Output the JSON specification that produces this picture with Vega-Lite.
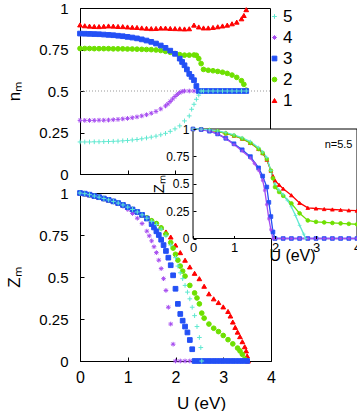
{
"$schema":"https://vega.github.io/schema/vega-lite/v6.json",
"padding":{"left":4,"top":0,"right":5,"bottom":5},
"config":{"font":"Liberation Sans","view":{"stroke":"black","strokeWidth":1},
"axis":{"grid":false,"domainColor":"black","tickColor":"black","labelColor":"black","titleColor":"black","labelFont":"Liberation Sans","titleFont":"Liberation Sans","titleFontWeight":"normal","labelFlush":false,"labelOverlap":false},
"legend":{"labelFont":"Liberation Sans"}},
"datasets":{
"top":[
{"s":"1","U":0,"v":0.898},{"s":"1","U":0.1,"v":0.893},{"s":"1","U":0.2,"v":0.891},{"s":"1","U":0.3,"v":0.889},{"s":"1","U":0.4,"v":0.888},{"s":"1","U":0.5,"v":0.89},{"s":"1","U":0.6,"v":0.892},{"s":"1","U":0.7,"v":0.891},{"s":"1","U":0.8,"v":0.889},{"s":"1","U":0.9,"v":0.888},{"s":"1","U":1,"v":0.886},{"s":"1","U":1.1,"v":0.884},{"s":"1","U":1.2,"v":0.883},{"s":"1","U":1.3,"v":0.88},{"s":"1","U":1.4,"v":0.878},{"s":"1","U":1.5,"v":0.876},{"s":"1","U":1.6,"v":0.877},{"s":"1","U":1.7,"v":0.879},{"s":"1","U":1.8,"v":0.879},{"s":"1","U":1.9,"v":0.877},{"s":"1","U":2,"v":0.876},{"s":"1","U":2.1,"v":0.875},{"s":"1","U":2.2,"v":0.874},{"s":"1","U":2.3,"v":0.875},{"s":"1","U":2.4,"v":0.897},{"s":"1","U":2.5,"v":0.886},{"s":"1","U":2.6,"v":0.88},{"s":"1","U":2.7,"v":0.88},{"s":"1","U":2.8,"v":0.883},{"s":"1","U":2.9,"v":0.887},{"s":"1","U":3,"v":0.892},{"s":"1","U":3.1,"v":0.897},{"s":"1","U":3.2,"v":0.905},{"s":"1","U":3.3,"v":0.915},{"s":"1","U":3.4,"v":0.935},{"s":"1","U":3.45,"v":0.955},{"s":"1","U":3.5,"v":0.99},
{"s":"2","U":0,"v":0.756},{"s":"2","U":0.1,"v":0.756},{"s":"2","U":0.2,"v":0.756},{"s":"2","U":0.3,"v":0.755},{"s":"2","U":0.4,"v":0.755},{"s":"2","U":0.5,"v":0.755},{"s":"2","U":0.6,"v":0.755},{"s":"2","U":0.7,"v":0.754},{"s":"2","U":0.8,"v":0.754},{"s":"2","U":0.9,"v":0.754},{"s":"2","U":1,"v":0.753},{"s":"2","U":1.1,"v":0.753},{"s":"2","U":1.2,"v":0.752},{"s":"2","U":1.3,"v":0.751},{"s":"2","U":1.4,"v":0.75},{"s":"2","U":1.5,"v":0.749},{"s":"2","U":1.6,"v":0.747},{"s":"2","U":1.7,"v":0.744},{"s":"2","U":1.8,"v":0.739},{"s":"2","U":1.9,"v":0.733},{"s":"2","U":2,"v":0.726},{"s":"2","U":2.1,"v":0.719},{"s":"2","U":2.2,"v":0.716},{"s":"2","U":2.3,"v":0.716},{"s":"2","U":2.4,"v":0.717},{"s":"2","U":2.45,"v":0.715},{"s":"2","U":2.5,"v":0.695},{"s":"2","U":2.55,"v":0.665},{"s":"2","U":2.6,"v":0.63},{"s":"2","U":2.7,"v":0.625},{"s":"2","U":2.8,"v":0.622},{"s":"2","U":2.9,"v":0.618},{"s":"2","U":3,"v":0.613},{"s":"2","U":3.1,"v":0.606},{"s":"2","U":3.2,"v":0.596},{"s":"2","U":3.3,"v":0.582},{"s":"2","U":3.4,"v":0.562},{"s":"2","U":3.45,"v":0.54},{"s":"2","U":3.5,"v":0.505},
{"s":"4","U":0,"v":0.323},{"s":"4","U":0.1,"v":0.323},{"s":"4","U":0.2,"v":0.323},{"s":"4","U":0.3,"v":0.323},{"s":"4","U":0.4,"v":0.324},{"s":"4","U":0.5,"v":0.324},{"s":"4","U":0.6,"v":0.325},{"s":"4","U":0.7,"v":0.327},{"s":"4","U":0.8,"v":0.329},{"s":"4","U":0.9,"v":0.332},{"s":"4","U":1,"v":0.335},{"s":"4","U":1.1,"v":0.339},{"s":"4","U":1.2,"v":0.344},{"s":"4","U":1.3,"v":0.35},{"s":"4","U":1.4,"v":0.357},{"s":"4","U":1.5,"v":0.366},{"s":"4","U":1.6,"v":0.377},{"s":"4","U":1.7,"v":0.392},{"s":"4","U":1.8,"v":0.41},{"s":"4","U":1.85,"v":0.422},{"s":"4","U":1.9,"v":0.437},{"s":"4","U":1.95,"v":0.452},{"s":"4","U":2,"v":0.467},{"s":"4","U":2.05,"v":0.48},{"s":"4","U":2.1,"v":0.49},{"s":"4","U":2.15,"v":0.497},{"s":"4","U":2.2,"v":0.5},{"s":"4","U":2.3,"v":0.5},{"s":"4","U":2.4,"v":0.5},{"s":"4","U":2.5,"v":0.5},{"s":"4","U":2.6,"v":0.5},{"s":"4","U":2.7,"v":0.5},{"s":"4","U":2.8,"v":0.5},{"s":"4","U":2.9,"v":0.5},{"s":"4","U":3,"v":0.5},{"s":"4","U":3.1,"v":0.5},{"s":"4","U":3.2,"v":0.5},{"s":"4","U":3.3,"v":0.5},{"s":"4","U":3.4,"v":0.5},{"s":"4","U":3.5,"v":0.5},
{"s":"3","U":0,"v":0.846},{"s":"3","U":0.1,"v":0.845},{"s":"3","U":0.2,"v":0.844},{"s":"3","U":0.3,"v":0.843},{"s":"3","U":0.4,"v":0.842},{"s":"3","U":0.5,"v":0.84},{"s":"3","U":0.6,"v":0.838},{"s":"3","U":0.7,"v":0.836},{"s":"3","U":0.8,"v":0.833},{"s":"3","U":0.9,"v":0.83},{"s":"3","U":1,"v":0.826},{"s":"3","U":1.1,"v":0.822},{"s":"3","U":1.2,"v":0.817},{"s":"3","U":1.3,"v":0.811},{"s":"3","U":1.4,"v":0.804},{"s":"3","U":1.5,"v":0.796},{"s":"3","U":1.6,"v":0.786},{"s":"3","U":1.7,"v":0.774},{"s":"3","U":1.8,"v":0.76},{"s":"3","U":1.9,"v":0.743},{"s":"3","U":2,"v":0.724},{"s":"3","U":2.1,"v":0.695},{"s":"3","U":2.15,"v":0.675},{"s":"3","U":2.2,"v":0.655},{"s":"3","U":2.25,"v":0.63},{"s":"3","U":2.3,"v":0.603},{"s":"3","U":2.35,"v":0.585},{"s":"3","U":2.4,"v":0.565},{"s":"3","U":2.45,"v":0.53},{"s":"3","U":2.5,"v":0.5},{"s":"3","U":2.6,"v":0.5},{"s":"3","U":2.7,"v":0.5},{"s":"3","U":2.8,"v":0.5},{"s":"3","U":2.9,"v":0.5},{"s":"3","U":3,"v":0.5},{"s":"3","U":3.1,"v":0.5},{"s":"3","U":3.2,"v":0.5},{"s":"3","U":3.3,"v":0.5},{"s":"3","U":3.4,"v":0.5},{"s":"3","U":3.5,"v":0.5},
{"s":"5","U":0,"v":0.193},{"s":"5","U":0.1,"v":0.193},{"s":"5","U":0.2,"v":0.193},{"s":"5","U":0.3,"v":0.194},{"s":"5","U":0.4,"v":0.194},{"s":"5","U":0.5,"v":0.195},{"s":"5","U":0.6,"v":0.196},{"s":"5","U":0.7,"v":0.197},{"s":"5","U":0.8,"v":0.198},{"s":"5","U":0.9,"v":0.2},{"s":"5","U":1,"v":0.202},{"s":"5","U":1.1,"v":0.205},{"s":"5","U":1.2,"v":0.208},{"s":"5","U":1.3,"v":0.212},{"s":"5","U":1.4,"v":0.217},{"s":"5","U":1.5,"v":0.222},{"s":"5","U":1.6,"v":0.228},{"s":"5","U":1.7,"v":0.236},{"s":"5","U":1.8,"v":0.245},{"s":"5","U":1.9,"v":0.257},{"s":"5","U":2,"v":0.272},{"s":"5","U":2.1,"v":0.29},{"s":"5","U":2.2,"v":0.32},{"s":"5","U":2.3,"v":0.35},{"s":"5","U":2.35,"v":0.39},{"s":"5","U":2.4,"v":0.42},{"s":"5","U":2.45,"v":0.45},{"s":"5","U":2.5,"v":0.475},{"s":"5","U":2.55,"v":0.5},{"s":"5","U":2.6,"v":0.5},{"s":"5","U":2.7,"v":0.5},{"s":"5","U":2.8,"v":0.5},{"s":"5","U":2.9,"v":0.5},{"s":"5","U":3,"v":0.5},{"s":"5","U":3.1,"v":0.5},{"s":"5","U":3.2,"v":0.5},{"s":"5","U":3.3,"v":0.5},{"s":"5","U":3.4,"v":0.5},{"s":"5","U":3.5,"v":0.5}
],
"bot":[
{"s":"1","U":0,"v":1},{"s":"1","U":0.1,"v":0.996},{"s":"1","U":0.2,"v":0.99},{"s":"1","U":0.3,"v":0.982},{"s":"1","U":0.4,"v":0.975},{"s":"1","U":0.5,"v":0.967},{"s":"1","U":0.6,"v":0.959},{"s":"1","U":0.7,"v":0.95},{"s":"1","U":0.8,"v":0.94},{"s":"1","U":0.9,"v":0.929},{"s":"1","U":1,"v":0.916},{"s":"1","U":1.1,"v":0.902},{"s":"1","U":1.2,"v":0.887},{"s":"1","U":1.3,"v":0.87},{"s":"1","U":1.4,"v":0.853},{"s":"1","U":1.5,"v":0.837},{"s":"1","U":1.6,"v":0.82},{"s":"1","U":1.7,"v":0.795},{"s":"1","U":1.8,"v":0.768},{"s":"1","U":1.9,"v":0.738},{"s":"1","U":2,"v":0.69},{"s":"1","U":2.1,"v":0.645},{"s":"1","U":2.2,"v":0.6},{"s":"1","U":2.3,"v":0.56},{"s":"1","U":2.4,"v":0.522},{"s":"1","U":2.5,"v":0.49},{"s":"1","U":2.6,"v":0.445},{"s":"1","U":2.7,"v":0.4},{"s":"1","U":2.8,"v":0.37},{"s":"1","U":2.9,"v":0.348},{"s":"1","U":3,"v":0.322},{"s":"1","U":3.1,"v":0.295},{"s":"1","U":3.15,"v":0.268},{"s":"1","U":3.2,"v":0.232},{"s":"1","U":3.25,"v":0.2},{"s":"1","U":3.3,"v":0.172},{"s":"1","U":3.35,"v":0.145},{"s":"1","U":3.4,"v":0.115},{"s":"1","U":3.45,"v":0.085},{"s":"1","U":3.48,"v":0.06},{"s":"1","U":3.5,"v":0.03},{"s":"1","U":3.52,"v":0},
{"s":"2","U":0,"v":1},{"s":"2","U":0.1,"v":0.996},{"s":"2","U":0.2,"v":0.99},{"s":"2","U":0.3,"v":0.982},{"s":"2","U":0.4,"v":0.975},{"s":"2","U":0.5,"v":0.967},{"s":"2","U":0.6,"v":0.959},{"s":"2","U":0.7,"v":0.95},{"s":"2","U":0.8,"v":0.94},{"s":"2","U":0.9,"v":0.929},{"s":"2","U":1,"v":0.916},{"s":"2","U":1.1,"v":0.902},{"s":"2","U":1.2,"v":0.887},{"s":"2","U":1.3,"v":0.87},{"s":"2","U":1.4,"v":0.852},{"s":"2","U":1.5,"v":0.835},{"s":"2","U":1.6,"v":0.818},{"s":"2","U":1.7,"v":0.792},{"s":"2","U":1.8,"v":0.755},{"s":"2","U":1.9,"v":0.705},{"s":"2","U":1.95,"v":0.672},{"s":"2","U":2,"v":0.635},{"s":"2","U":2.05,"v":0.6},{"s":"2","U":2.1,"v":0.565},{"s":"2","U":2.15,"v":0.535},{"s":"2","U":2.2,"v":0.505},{"s":"2","U":2.3,"v":0.45},{"s":"2","U":2.4,"v":0.405},{"s":"2","U":2.45,"v":0.375},{"s":"2","U":2.5,"v":0.34},{"s":"2","U":2.55,"v":0.285},{"s":"2","U":2.6,"v":0.255},{"s":"2","U":2.7,"v":0.22},{"s":"2","U":2.8,"v":0.195},{"s":"2","U":2.9,"v":0.175},{"s":"2","U":3,"v":0.152},{"s":"2","U":3.1,"v":0.127},{"s":"2","U":3.2,"v":0.102},{"s":"2","U":3.3,"v":0.077},{"s":"2","U":3.35,"v":0.06},{"s":"2","U":3.4,"v":0.04},{"s":"2","U":3.45,"v":0.012},
{"s":"4","U":0,"v":1},{"s":"4","U":0.1,"v":0.996},{"s":"4","U":0.2,"v":0.99},{"s":"4","U":0.3,"v":0.982},{"s":"4","U":0.4,"v":0.975},{"s":"4","U":0.5,"v":0.967},{"s":"4","U":0.6,"v":0.958},{"s":"4","U":0.7,"v":0.948},{"s":"4","U":0.8,"v":0.936},{"s":"4","U":0.9,"v":0.921},{"s":"4","U":1,"v":0.902},{"s":"4","U":1.1,"v":0.878},{"s":"4","U":1.2,"v":0.85},{"s":"4","U":1.3,"v":0.818},{"s":"4","U":1.4,"v":0.773},{"s":"4","U":1.45,"v":0.745},{"s":"4","U":1.5,"v":0.715},{"s":"4","U":1.55,"v":0.68},{"s":"4","U":1.6,"v":0.645},{"s":"4","U":1.65,"v":0.6},{"s":"4","U":1.7,"v":0.55},{"s":"4","U":1.75,"v":0.49},{"s":"4","U":1.8,"v":0.42},{"s":"4","U":1.85,"v":0.32},{"s":"4","U":1.9,"v":0.22},{"s":"4","U":1.95,"v":0.1},{"s":"4","U":2,"v":0},{"s":"4","U":2.1,"v":0},{"s":"4","U":2.2,"v":0},{"s":"4","U":2.3,"v":0},{"s":"4","U":2.4,"v":0},{"s":"4","U":2.5,"v":0},{"s":"4","U":2.6,"v":0},{"s":"4","U":2.7,"v":0},{"s":"4","U":2.8,"v":0},{"s":"4","U":2.9,"v":0},{"s":"4","U":3,"v":0},{"s":"4","U":3.1,"v":0},{"s":"4","U":3.2,"v":0},{"s":"4","U":3.3,"v":0},{"s":"4","U":3.4,"v":0},{"s":"4","U":3.5,"v":0},
{"s":"3","U":0,"v":1},{"s":"3","U":0.1,"v":0.996},{"s":"3","U":0.2,"v":0.99},{"s":"3","U":0.3,"v":0.982},{"s":"3","U":0.4,"v":0.975},{"s":"3","U":0.5,"v":0.967},{"s":"3","U":0.6,"v":0.959},{"s":"3","U":0.7,"v":0.95},{"s":"3","U":0.8,"v":0.94},{"s":"3","U":0.9,"v":0.929},{"s":"3","U":1,"v":0.916},{"s":"3","U":1.1,"v":0.902},{"s":"3","U":1.2,"v":0.887},{"s":"3","U":1.3,"v":0.87},{"s":"3","U":1.4,"v":0.848},{"s":"3","U":1.5,"v":0.815},{"s":"3","U":1.55,"v":0.795},{"s":"3","U":1.6,"v":0.772},{"s":"3","U":1.65,"v":0.75},{"s":"3","U":1.7,"v":0.722},{"s":"3","U":1.75,"v":0.69},{"s":"3","U":1.8,"v":0.655},{"s":"3","U":1.85,"v":0.615},{"s":"3","U":1.9,"v":0.57},{"s":"3","U":1.95,"v":0.51},{"s":"3","U":2,"v":0.43},{"s":"3","U":2.05,"v":0.34},{"s":"3","U":2.1,"v":0.28},{"s":"3","U":2.15,"v":0.24},{"s":"3","U":2.2,"v":0.205},{"s":"3","U":2.25,"v":0.17},{"s":"3","U":2.3,"v":0.125},{"s":"3","U":2.35,"v":0.07},{"s":"3","U":2.4,"v":0},{"s":"3","U":2.5,"v":0},{"s":"3","U":2.6,"v":0},{"s":"3","U":2.7,"v":0},{"s":"3","U":2.8,"v":0},{"s":"3","U":2.9,"v":0},{"s":"3","U":3,"v":0},{"s":"3","U":3.1,"v":0},{"s":"3","U":3.2,"v":0},{"s":"3","U":3.3,"v":0},{"s":"3","U":3.4,"v":0},{"s":"3","U":3.5,"v":0},
{"s":"5","U":0,"v":1},{"s":"5","U":0.1,"v":0.996},{"s":"5","U":0.2,"v":0.99},{"s":"5","U":0.3,"v":0.982},{"s":"5","U":0.4,"v":0.975},{"s":"5","U":0.5,"v":0.967},{"s":"5","U":0.6,"v":0.959},{"s":"5","U":0.7,"v":0.95},{"s":"5","U":0.8,"v":0.94},{"s":"5","U":0.9,"v":0.929},{"s":"5","U":1,"v":0.916},{"s":"5","U":1.1,"v":0.902},{"s":"5","U":1.2,"v":0.887},{"s":"5","U":1.3,"v":0.87},{"s":"5","U":1.4,"v":0.85},{"s":"5","U":1.5,"v":0.832},{"s":"5","U":1.6,"v":0.812},{"s":"5","U":1.7,"v":0.785},{"s":"5","U":1.8,"v":0.745},{"s":"5","U":1.9,"v":0.69},{"s":"5","U":2,"v":0.615},{"s":"5","U":2.05,"v":0.565},{"s":"5","U":2.1,"v":0.525},{"s":"5","U":2.15,"v":0.49},{"s":"5","U":2.2,"v":0.45},{"s":"5","U":2.25,"v":0.41},{"s":"5","U":2.3,"v":0.37},{"s":"5","U":2.35,"v":0.32},{"s":"5","U":2.4,"v":0.27},{"s":"5","U":2.45,"v":0.205},{"s":"5","U":2.5,"v":0.14},{"s":"5","U":2.53,"v":0.08},{"s":"5","U":2.55,"v":0}
],
"inset":[
{"s":"1","U":0,"v":1},{"s":"1","U":0.2,"v":0.998},{"s":"1","U":0.4,"v":0.99},{"s":"1","U":0.6,"v":0.978},{"s":"1","U":0.8,"v":0.96},{"s":"1","U":1,"v":0.94},{"s":"1","U":1.2,"v":0.912},{"s":"1","U":1.4,"v":0.873},{"s":"1","U":1.6,"v":0.818},{"s":"1","U":1.7,"v":0.78},{"s":"1","U":1.8,"v":0.72},{"s":"1","U":1.9,"v":0.62},{"s":"1","U":1.95,"v":0.57},{"s":"1","U":2,"v":0.53},{"s":"1","U":2.1,"v":0.49},{"s":"1","U":2.2,"v":0.455},{"s":"1","U":2.4,"v":0.395},{"s":"1","U":2.6,"v":0.325},{"s":"1","U":2.8,"v":0.28},{"s":"1","U":3,"v":0.274},{"s":"1","U":3.2,"v":0.269},{"s":"1","U":3.4,"v":0.265},{"s":"1","U":3.6,"v":0.261},{"s":"1","U":3.8,"v":0.257},{"s":"1","U":4,"v":0.254},
{"s":"2","U":0,"v":1},{"s":"2","U":0.2,"v":0.998},{"s":"2","U":0.4,"v":0.99},{"s":"2","U":0.6,"v":0.978},{"s":"2","U":0.8,"v":0.96},{"s":"2","U":1,"v":0.94},{"s":"2","U":1.2,"v":0.912},{"s":"2","U":1.4,"v":0.873},{"s":"2","U":1.6,"v":0.818},{"s":"2","U":1.7,"v":0.78},{"s":"2","U":1.8,"v":0.725},{"s":"2","U":1.9,"v":0.62},{"s":"2","U":1.95,"v":0.55},{"s":"2","U":2,"v":0.47},{"s":"2","U":2.1,"v":0.425},{"s":"2","U":2.2,"v":0.39},{"s":"2","U":2.4,"v":0.32},{"s":"2","U":2.6,"v":0.23},{"s":"2","U":2.8,"v":0.165},{"s":"2","U":3,"v":0.152},{"s":"2","U":3.2,"v":0.147},{"s":"2","U":3.4,"v":0.142},{"s":"2","U":3.6,"v":0.138},{"s":"2","U":3.8,"v":0.134},{"s":"2","U":4,"v":0.13},
{"s":"3","U":0,"v":1},{"s":"3","U":0.2,"v":0.995},{"s":"3","U":0.4,"v":0.98},{"s":"3","U":0.6,"v":0.955},{"s":"3","U":0.8,"v":0.915},{"s":"3","U":1,"v":0.865},{"s":"3","U":1.2,"v":0.81},{"s":"3","U":1.4,"v":0.748},{"s":"3","U":1.6,"v":0.645},{"s":"3","U":1.7,"v":0.57},{"s":"3","U":1.8,"v":0.47},{"s":"3","U":1.85,"v":0.33},{"s":"3","U":1.9,"v":0.2},{"s":"3","U":1.95,"v":0.06},{"s":"3","U":2,"v":0},{"s":"3","U":2.2,"v":0},{"s":"3","U":2.4,"v":0},{"s":"3","U":2.6,"v":0},{"s":"3","U":2.8,"v":0},{"s":"3","U":3,"v":0},{"s":"3","U":3.2,"v":0},{"s":"3","U":3.4,"v":0},{"s":"3","U":3.6,"v":0},{"s":"3","U":3.8,"v":0},{"s":"3","U":4,"v":0},
{"s":"4","U":0,"v":1},{"s":"4","U":0.2,"v":0.995},{"s":"4","U":0.4,"v":0.98},{"s":"4","U":0.6,"v":0.955},{"s":"4","U":0.8,"v":0.912},{"s":"4","U":1,"v":0.858},{"s":"4","U":1.2,"v":0.8},{"s":"4","U":1.4,"v":0.735},{"s":"4","U":1.5,"v":0.685},{"s":"4","U":1.6,"v":0.625},{"s":"4","U":1.7,"v":0.53},{"s":"4","U":1.75,"v":0.44},{"s":"4","U":1.8,"v":0.31},{"s":"4","U":1.85,"v":0.18},{"s":"4","U":1.9,"v":0.08},{"s":"4","U":1.95,"v":0},{"s":"4","U":2,"v":0},{"s":"4","U":2.2,"v":0},{"s":"4","U":2.4,"v":0},{"s":"4","U":2.6,"v":0},{"s":"4","U":2.8,"v":0},{"s":"4","U":3,"v":0},{"s":"4","U":3.2,"v":0},{"s":"4","U":3.4,"v":0},{"s":"4","U":3.6,"v":0},{"s":"4","U":3.8,"v":0},{"s":"4","U":4,"v":0},
{"s":"5","U":0,"v":1},{"s":"5","U":0.2,"v":0.998},{"s":"5","U":0.4,"v":0.992},{"s":"5","U":0.6,"v":0.982},{"s":"5","U":0.8,"v":0.967},{"s":"5","U":1,"v":0.947},{"s":"5","U":1.2,"v":0.92},{"s":"5","U":1.4,"v":0.885},{"s":"5","U":1.6,"v":0.83},{"s":"5","U":1.7,"v":0.79},{"s":"5","U":1.8,"v":0.74},{"s":"5","U":1.9,"v":0.62},{"s":"5","U":2,"v":0.5},{"s":"5","U":2.1,"v":0.44},{"s":"5","U":2.2,"v":0.4},{"s":"5","U":2.3,"v":0.35},{"s":"5","U":2.4,"v":0.29},{"s":"5","U":2.5,"v":0.21},{"s":"5","U":2.6,"v":0.12},{"s":"5","U":2.7,"v":0.04},{"s":"5","U":2.75,"v":0}
]},
"spacing":19,
"bounds":"flush",
"resolve":{"scale":{"x":"independent","y":"independent","fill":"independent","stroke":"independent","shape":"independent"},"legend":{"fill":"independent","stroke":"independent","shape":"independent"}},
"vconcat":[
{"width":190,"height":166,
"layer":[
{"data":{"values":[{}]},"mark":{"type":"rule","stroke":"#999999","strokeWidth":1,"strokeDash":[1,2]},"encoding":{"y":{"datum":0.5,"type":"quantitative","scale":{"domain":[0,1]}}}},
{"data":{"name":"top"},"mark":{"type":"point","filled":true,"size":22,"strokeWidth":1,"opacity":1},
"encoding":{
"x":{"field":"U","type":"quantitative","scale":{"domain":[0,4]},"axis":{"values":[0,1,2,3,4],"tickSize":-4,"labels":false,"title":null}},
"y":{"field":"v","type":"quantitative","scale":{"domain":[0,1]},"axis":{"values":[0,0.25,0.5,0.75,1],"labelExpr":"'' + datum.value","tickSize":-4,"labelPadding":16,"labelFontSize":15,"title":"nₘ","titleFontSize":17,"titleX":-66,"titleBaseline":"middle"}},
"fill":{"field":"s","type":"nominal","scale":{"domain":["5","4","3","2","1"],"range":["#5fe8d0","#a64cf0","#2350f5","#6ee000","#ff0000"]},"legend":{"title":null,"orient":"right","offset":-4,"padding":0,"symbolSize":22,"symbolStrokeWidth":1,"labelFontSize":17,"labelOffset":0,"rowPadding":3,"encode":{"labels":{"update":{"fill":{"signal":"datum.value=='5'?'#5fe8d0':datum.value=='4'?'#a64cf0':datum.value=='3'?'#2350f5':datum.value=='2'?'#6ee000':'#ff0000'"}}}}}},
"stroke":{"field":"s","type":"nominal","scale":{"domain":["5","4","3","2","1"],"range":["#5fe8d0","#a64cf0","#2350f5","#6ee000","#ff0000"]},"legend":{"title":null,"orient":"right","offset":-4,"padding":0,"symbolSize":22,"symbolStrokeWidth":1,"labelFontSize":17,"labelOffset":0,"rowPadding":3,"encode":{"labels":{"update":{"fill":{"signal":"datum.value=='5'?'#5fe8d0':datum.value=='4'?'#a64cf0':datum.value=='3'?'#2350f5':datum.value=='2'?'#6ee000':'#ff0000'"}}}}}},
"shape":{"field":"s","type":"nominal","scale":{"domain":["5","4","3","2","1"],"range":["M-1,0H1M0,-1V1","M-1,0H1M0,-1V1M-0.7,-0.7L0.7,0.7M-0.7,0.7L0.7,-0.7","square","circle","triangle-up"]},"legend":{"title":null,"orient":"right","offset":-4,"padding":0,"symbolSize":22,"symbolStrokeWidth":1,"labelFontSize":17,"labelOffset":0,"rowPadding":3,"encode":{"labels":{"update":{"fill":{"signal":"datum.value=='5'?'#5fe8d0':datum.value=='4'?'#a64cf0':datum.value=='3'?'#2350f5':datum.value=='2'?'#6ee000':'#ff0000'"}}}}}}
}}
]},
{"width":191,"height":168,
"resolve":{"scale":{"x":"independent","y":"independent"}},
"layer":[
{"data":{"name":"bot"},"mark":{"type":"point","filled":true,"size":22,"strokeWidth":1,"opacity":1},
"encoding":{
"x":{"field":"U","type":"quantitative","scale":{"domain":[0,4]},"axis":{"orient":"bottom","values":[0,1,2,3,4],"labelExpr":"'' + datum.value","tickSize":-4,"labelPadding":12,"labelFontSize":16,"title":"U (eV)","titleFontSize":17,"titleX":121,"titleY":42,"titleBaseline":"middle"}},
"y":{"field":"v","type":"quantitative","scale":{"domain":[0,1]},"axis":{"orient":"left","values":[0,0.25,0.5,0.75,1],"labelExpr":"'' + datum.value","tickSize":-4,"labelPadding":16,"labelFontSize":15,"title":"Zₘ","titleFontSize":17,"titleX":-66,"titleBaseline":"middle"}},
"fill":{"field":"s","type":"nominal","scale":{"domain":["5","4","3","2","1"],"range":["#5fe8d0","#a64cf0","#2350f5","#6ee000","#ff0000"]},"legend":null},
"stroke":{"field":"s","type":"nominal","scale":{"domain":["5","4","3","2","1"],"range":["#5fe8d0","#a64cf0","#2350f5","#6ee000","#ff0000"]},"legend":null},
"shape":{"field":"s","type":"nominal","scale":{"domain":["5","4","3","2","1"],"range":["M-1,0H1M0,-1V1","M-1,0H1M0,-1V1M-0.7,-0.7L0.7,0.7M-0.7,0.7L0.7,-0.7","square","circle","triangle-up"]},"legend":null}
}},
{"layer":[
{"data":{"values":[{}]},"mark":{"type":"rect","fill":"white","stroke":"black","strokeWidth":1},
"encoding":{
"x":{"datum":0,"type":"quantitative","scale":{"domain":[0,4],"range":[113,277]},"axis":{"orient":"bottom","offset":-122.5,"values":[0,1,2,3,4],"labelExpr":"'' + datum.value","tickSize":-3,"labelPadding":6,"labelFontSize":13,"domain":false,"zindex":1,"title":"U (eV)","titleFontSize":16,"titleX":212,"titleY":17,"titleBaseline":"middle"}},
"x2":{"datum":4},
"y":{"datum":0,"type":"quantitative","scale":{"domain":[0,1],"range":[45.5,-64]},"axis":{"orient":"left","offset":-113,"values":[0,0.25,0.5,0.75,1],"labelExpr":"'' + datum.value","tickSize":-3,"labelPadding":7,"labelFontSize":12,"domain":false,"zindex":1,"title":"Zₘ","titleFontSize":15,"titleX":-35,"titleBaseline":"middle"}},
"y2":{"datum":1}}},
{"data":{"name":"inset"},"mark":{"type":"line","strokeWidth":1.3},
"encoding":{"x":{"field":"U","type":"quantitative"},"y":{"field":"v","type":"quantitative"},
"stroke":{"field":"s","type":"nominal","scale":{"domain":["5","4","3","2","1"],"range":["#5fe8d0","#a64cf0","#2350f5","#6ee000","#ff0000"]},"legend":null},
"strokeWidth":{"condition":{"test":"datum.s==='4'","value":2.5},"value":1.3}}},
{"data":{"name":"inset"},"mark":{"type":"point","filled":true,"size":14,"strokeWidth":0.8,"opacity":1},
"encoding":{"x":{"field":"U","type":"quantitative"},"y":{"field":"v","type":"quantitative"},
"fill":{"field":"s","type":"nominal","legend":null},
"stroke":{"field":"s","type":"nominal","legend":null},
"shape":{"field":"s","type":"nominal","legend":null}}},
{"data":{"values":[{}]},"mark":{"type":"text","text":"n=5.5","fontSize":11,"align":"center","baseline":"middle","font":"Liberation Sans"},
"encoding":{"x":{"datum":3.55,"type":"quantitative"},"y":{"datum":0.85,"type":"quantitative"}}}
]}
]}
]
}
